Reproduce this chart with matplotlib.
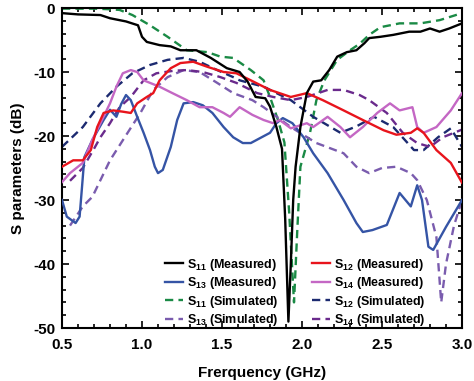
import matplotlib
matplotlib.use("Agg")
import matplotlib.pyplot as plt
from matplotlib.ticker import MultipleLocator

plt.rcParams['font.family'] = ['Liberation Sans', 'DejaVu Sans']
plt.rcParams['font.weight'] = 'bold'
plt.rcParams['mathtext.fontset'] = 'custom'
plt.rcParams['mathtext.rm'] = 'Liberation Sans:bold'
plt.rcParams['mathtext.bf'] = 'Liberation Sans:bold'
plt.rcParams['mathtext.it'] = 'Liberation Sans:bold'
plt.rcParams['mathtext.default'] = 'bf'

# ---- data (frequency in GHz, S in dB) ----
s11m_f = [0.5, 0.6, 0.74, 0.8, 0.9, 0.975, 1.0, 1.03, 1.11, 1.18, 1.24, 1.34, 1.43, 1.53, 1.61, 1.66,
          1.71, 1.77, 1.80, 1.84, 1.875, 1.895, 1.915, 1.93, 1.945, 1.96, 1.99, 2.03, 2.07, 2.12, 2.17,
          2.22, 2.28, 2.34, 2.39, 2.42, 2.49, 2.57, 2.67, 2.74, 2.8, 2.86, 2.92, 3.0]
s11m_db = [-0.8, -1.0, -1.1, -1.6, -2.1, -2.7, -4.5, -5.3, -5.8, -6.0, -6.6, -6.6, -7.8, -9.4, -10.0, -11.5,
           -13.9, -14.1, -15.4, -18.6, -22.0, -33.0, -49.0, -40.0, -30.0, -24.8, -18.6, -13.3, -11.5, -11.3, -9.7,
           -7.6, -6.9, -6.6, -5.5, -4.7, -4.5, -4.2, -3.7, -3.7, -3.2, -3.7, -3.2, -2.4]

s12m_f = [0.5, 0.57, 0.63, 0.68, 0.72, 0.76, 0.82, 0.88, 0.93, 0.97, 1.03, 1.07, 1.11, 1.18, 1.24, 1.32,
          1.41, 1.51, 1.59, 1.68, 1.8, 1.93, 2.03, 2.13, 2.26, 2.38, 2.51, 2.59, 2.68, 2.72, 2.76, 2.84,
          2.93, 3.0]
s12m_db = [-24.8, -23.8, -23.8, -22.2, -18.6, -16.4, -16.0, -16.2, -16.4, -14.9, -13.9, -13.3, -11.3, -9.4,
           -8.6, -8.4, -9.2, -10.0, -10.2, -11.3, -12.8, -13.9, -13.3, -14.4, -16.0, -17.5, -19.1, -19.8,
           -19.5, -18.8, -19.5, -22.2, -24.2, -27.3]

s13m_f = [0.5, 0.53, 0.585, 0.61, 0.625, 0.64, 0.69, 0.76, 0.8, 0.84, 0.87, 0.9, 0.93, 0.97, 1.01, 1.05,
          1.08, 1.1, 1.13, 1.18, 1.22, 1.26, 1.32, 1.38, 1.44, 1.51, 1.57, 1.63, 1.68, 1.74, 1.8, 1.84,
          1.88, 1.94, 2.01, 2.07, 2.16, 2.26, 2.34, 2.38, 2.44, 2.53, 2.61, 2.68, 2.72, 2.75, 2.79, 2.82,
          2.9, 3.0]
s13m_db = [-30.0, -32.6, -33.6, -32.6, -28.0, -23.3, -20.6, -17.5, -15.9, -17.0, -15.0, -13.6, -14.4, -17.0,
           -19.5, -22.2, -24.8, -25.8, -25.3, -21.7, -17.5, -14.9, -14.7, -15.2, -16.4, -18.6, -20.2, -21.1,
           -21.1, -20.3, -19.5, -18.0, -17.2, -18.0, -20.2, -22.7, -25.8, -30.0, -33.6, -35.0, -34.7, -33.9,
           -28.9, -31.0, -27.7, -30.0, -37.3, -37.8, -34.2, -30.0]

s14m_f = [0.5, 0.55, 0.63, 0.69, 0.74, 0.8, 0.84, 0.88, 0.93, 0.97, 1.01, 1.05, 1.11, 1.19, 1.28, 1.36,
          1.44, 1.51, 1.55, 1.61, 1.69, 1.76, 1.82, 1.86, 1.93, 2.03, 2.07, 2.16, 2.24, 2.3, 2.38, 2.47,
          2.55, 2.61, 2.69, 2.72, 2.76, 2.84, 2.93, 3.0]
s14m_db = [-27.2, -25.8, -24.2, -20.6, -18.0, -14.9, -12.3, -10.2, -9.7, -10.0, -11.3, -11.7, -12.3, -13.3,
           -14.4, -15.5, -15.5, -16.4, -17.0, -15.5, -16.7, -17.5, -18.0, -17.5, -18.8, -18.0, -18.6, -17.0,
           -18.6, -20.2, -18.6, -16.4, -14.9, -16.0, -15.5, -18.6, -19.5, -18.6, -16.0, -13.3]

s11s_f = [0.5, 0.7, 0.8, 0.86, 0.94, 1.05, 1.16, 1.28, 1.41, 1.49, 1.57, 1.68, 1.76, 1.8, 1.85, 1.89,
          1.92, 1.95, 1.97, 1.99, 2.05, 2.09, 2.14, 2.22, 2.3, 2.36, 2.42, 2.49, 2.61, 2.74, 2.86, 3.0]
s11s_db = [-0.1, -0.1, -0.2, -0.3, -1.1, -2.7, -4.5, -6.6, -6.9, -7.6, -7.8, -9.7, -11.3, -13.9, -17.5, -21.0,
           -32.0, -46.0, -35.0, -24.8, -19.5, -14.4, -11.3, -8.1, -6.6, -5.6, -4.2, -3.0, -2.4, -2.4, -1.9, -0.8]

s12s_f = [0.5, 0.63, 0.74, 0.84, 0.94, 1.05, 1.16, 1.26, 1.36, 1.47, 1.57, 1.61, 1.76, 1.93, 2.07, 2.24,
          2.34, 2.45, 2.57, 2.7, 2.76, 2.85, 2.93, 3.0]
s12s_db = [-21.7, -18.6, -14.9, -12.3, -10.2, -8.9, -8.1, -7.8, -8.4, -9.7, -10.8, -11.3, -12.3, -14.4,
           -17.0, -19.5, -18.5, -17.0, -18.6, -22.2, -22.2, -20.2, -18.8, -21.7]

s13s_f = [0.55, 0.63, 0.69, 0.8, 0.91, 0.99, 1.07, 1.16, 1.26, 1.36, 1.47, 1.57, 1.69, 1.76, 1.93, 2.09,
          2.26, 2.34, 2.42, 2.5, 2.59, 2.68, 2.72, 2.78, 2.84, 2.87, 2.9, 2.95, 3.0]
s13s_db = [-34.0, -31.0, -29.5, -23.8, -19.5, -16.4, -12.8, -10.8, -9.7, -10.0, -11.7, -13.3, -14.4, -15.5,
           -18.6, -21.1, -22.7, -24.8, -25.8, -25.0, -24.8, -25.8, -26.9, -30.0, -35.8, -46.0, -40.0, -34.0, -30.0]

s14s_f = [0.55, 0.63, 0.7, 0.74, 0.8, 0.86, 0.93, 1.01, 1.09, 1.2, 1.28, 1.38, 1.49, 1.59, 1.72, 1.82,
          1.93, 2.03, 2.16, 2.26, 2.36, 2.42, 2.53, 2.63, 2.72, 2.8, 2.88, 3.0]
s14s_db = [-27.0, -25.0, -22.0, -20.2, -18.0, -15.5, -13.9, -11.3, -10.2, -9.8, -9.7, -10.0, -10.8, -11.7,
           -13.3, -13.9, -14.4, -13.9, -12.8, -12.8, -13.6, -14.4, -16.4, -19.5, -21.1, -21.7, -20.2, -19.0]

labels = ["S$_{11}$ (Measured)", "S$_{13}$ (Measured)", "S$_{11}$ (Simulated)", "S$_{13}$ (Simulated)",
          "S$_{12}$ (Measured)", "S$_{14}$ (Measured)", "S$_{12}$ (Simulated)", "S$_{14}$ (Simulated)"]

fig = plt.figure(figsize=(4.74, 3.81), dpi=100)
ax = fig.add_axes([0.1308, 0.1391, 0.8439, 0.8399])

lw = 1.7
dash = (3.5, 2.2)
l11s, = ax.plot(s11s_f, s11s_db, color='#1a8a45', lw=lw, dashes=dash, zorder=2)
l12s, = ax.plot(s12s_f, s12s_db, color='#1c2a70', lw=lw, dashes=dash, zorder=2)
l13s, = ax.plot(s13s_f, s13s_db, color='#7a5cae', lw=lw, dashes=dash, zorder=2)
l14s, = ax.plot(s14s_f, s14s_db, color='#6a2a8c', lw=lw, dashes=dash, zorder=2)
l13m, = ax.plot(s13m_f, s13m_db, color='#3554a5', lw=lw, zorder=3)
l14m, = ax.plot(s14m_f, s14m_db, color='#c467c4', lw=lw, zorder=3)
l12m, = ax.plot(s12m_f, s12m_db, color='#e8141c', lw=lw, zorder=3)
l11m, = ax.plot(s11m_f, s11m_db, color='black', lw=lw, zorder=4)

order = [l11m, l13m, l11s, l13s, l12m, l14m, l12s, l14s]
ax.legend(order, labels, ncol=2, loc='upper left', bbox_to_anchor=(0.235, 0.25),
          frameon=False, fontsize=9, handlelength=1.45, handletextpad=0.3,
          labelspacing=0.2, columnspacing=2.7, borderpad=0.2)

ax.set_xlim(0.5, 3.0)
ax.set_ylim(-50, 0)
ax.xaxis.set_minor_locator(MultipleLocator(0.1))
ax.yaxis.set_minor_locator(MultipleLocator(2))
ax.tick_params(which='both', direction='in', top=True, right=True, width=1.2)
ax.tick_params(which='major', length=5, labelsize=11)
ax.tick_params(axis='x', which='major', pad=7)
ax.tick_params(axis='y', which='major', pad=5)
ax.tick_params(which='minor', length=3)
ax.set_xticks([0.5, 1.0, 1.5, 2.0, 2.5, 3.0])
ax.set_xticklabels(['0.5', '1.0', '1.5', '2.0', '2.5', '3.0'], fontweight='bold')
ax.set_yticks([0, -10, -20, -30, -40, -50])
ax.set_yticklabels(['0', '-10', '-20', '-30', '-40', '-50'], fontweight='bold')
for s in ax.spines.values():
    s.set_linewidth(1.5)
ax.set_xlabel('Frerquency (GHz)', fontsize=11, fontweight='bold', labelpad=10)
ax.set_ylabel('S parameters (dB)', fontsize=11, fontweight='bold', labelpad=6)

fig.savefig('out.png', dpi=100)
